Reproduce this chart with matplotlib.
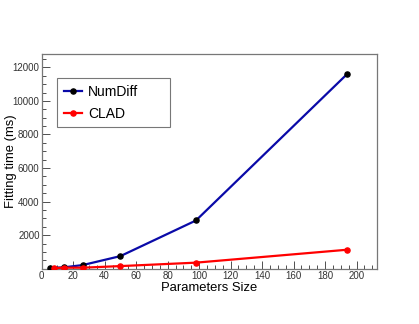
import matplotlib
matplotlib.use('Agg')
import matplotlib.pyplot as plt
from matplotlib.ticker import MultipleLocator

plt.rcParams['font.family'] = ['Liberation Sans', 'DejaVu Sans']

# parameter sizes and fitting times (ms)
numdiff_x = [5, 14, 26, 50, 98, 194]
numdiff_t = [40, 80, 215, 750, 2875, 11600]

clad_x = [8, 14, 26, 50, 98, 194]
clad_t = [35, 60, 60, 155, 360, 1130]

fig = plt.figure(figsize=(4.19, 3.24), dpi=100)
ax = fig.add_axes([0.0995, 0.1707, 0.8003, 0.6617])

ax.plot(numdiff_x, numdiff_t, color='#0a0aa8', lw=1.6, marker='o', ms=3.7,
        mfc='black', mec='black', label='NumDiff', zorder=3)
ax.plot(clad_x, clad_t, color='#ff0000', lw=1.6, marker='o', ms=3.7,
        mfc='#ff0000', mec='#ff0000', label='CLAD', zorder=3)

ax.set_xlim(0, 213)
ax.set_ylim(0, 12780)

ax.xaxis.set_major_locator(MultipleLocator(20))
ax.xaxis.set_minor_locator(MultipleLocator(5))
ax.yaxis.set_major_locator(MultipleLocator(2000))
ax.yaxis.set_minor_locator(MultipleLocator(500))

ax.tick_params(which='both', direction='in', top=False, right=False,
               labelsize=7, colors='#333333', width=0.6)
ax.tick_params(which='major', length=6)
ax.tick_params(which='minor', length=3)
ax.tick_params(axis='x', pad=2)
ax.tick_params(axis='y', pad=1.5)

# no "0" label on the y axis in the original
ax.set_yticks([2000, 4000, 6000, 8000, 10000, 12000])

for s in ax.spines.values():
    s.set_color('#777777')
    s.set_linewidth(0.9)

ax.set_xlabel('Parameters Size', fontsize=9.4)
ax.set_ylabel('Fitting time (ms)', fontsize=9.4)
ax.xaxis.set_label_coords(0.5, -0.06)
ax.yaxis.set_label_coords(-0.075, 0.5)

leg = ax.legend(loc='upper left', bbox_to_anchor=(0.0465, 0.673, 0.335, 0.215),
                mode='expand', fontsize=10, frameon=True, fancybox=False,
                edgecolor='#555555', handlelength=1.35, borderpad=0.45,
                labelspacing=0.6, handletextpad=0.4, borderaxespad=0)
leg.get_frame().set_linewidth(0.8)

fig.savefig('out.png', dpi=100)
